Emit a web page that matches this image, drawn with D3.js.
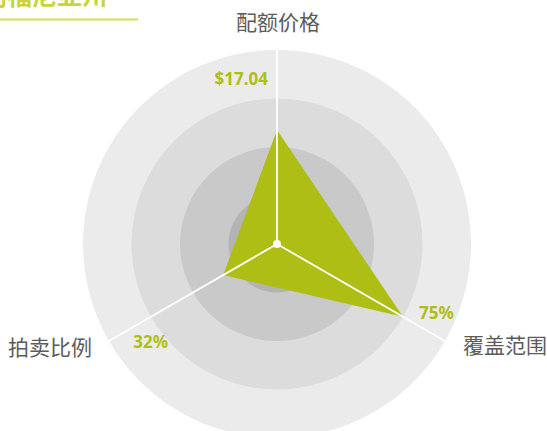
<!DOCTYPE html>
<html lang="zh">
<head>
  <meta charset="UTF-8">
  <title>加利福尼亚州</title>
  <script src="https://d3js.org/d3.v7.min.js"></script>
  <style>
    body { margin: 0; background: #fff; }
    svg { display: block; }
    .axis-label { font-family: "Noto Sans CJK SC", sans-serif; font-size: 21px; fill: #5b5b5b; }
    .value-label { font-family: "Noto Sans", sans-serif; font-weight: bold; font-size: 17px; fill: #afbe14; }
  </style>
</head>
<body>
  <svg id="chart" width="547" height="431"></svg>
  <script>
    // données
    const title = "加利福尼亚州";
    const axes = ["配额价格", "覆盖范围", "拍卖比例"];
    const rawValues = [17.04, 75, 32];
    const axisMax = [29, 100, 100];
    const valueLabels = ["$17.04", "75%", "32%"];
    const ringLevels = [4, 3, 2, 1];
    const ringColors = ["#ebebeb", "#dcdcdc", "#c9c9c9", "#b3b3b3"];

    const svg = d3.select("#chart");
    const cx = 277, cy = 244, R = 194;

    const r = d3.scaleLinear().domain([0, 1]).range([0, R]);
    const angle = d3.scaleLinear().domain([0, axes.length]).range([-Math.PI / 2, 1.5 * Math.PI]);
    const pt = (i, v) => [cx + r(v) * Math.cos(angle(i)), cy + r(v) * Math.sin(angle(i))];

    // titre coupé en haut à gauche
    svg.append("text")
      .attr("x", -43).attr("y", 5)
      .attr("font-family", "Noto Sans CJK SC").attr("font-weight", "bold")
      .attr("font-size", 25).attr("fill", "#c8d53a")
      .text(title);
    svg.append("line")
      .attr("x1", 0).attr("x2", 138).attr("y1", 19.5).attr("y2", 19.5)
      .attr("stroke", "#d3df4e").attr("stroke-width", 2);

    // anneaux
    svg.selectAll(".ring")
      .data(ringLevels)
      .join("circle")
      .attr("class", "ring")
      .attr("cx", cx).attr("cy", cy)
      .attr("r", d => r(d / 4))
      .attr("fill", (d, i) => ringColors[i]);

    // polygone
    const norm = rawValues.map((v, i) => v / axisMax[i]);
    svg.append("path")
      .datum(norm)
      .attr("d", d => d3.line()(d.map((v, i) => pt(i, v))) + "Z")
      .attr("fill", "#afbe14");

    // axes
    svg.selectAll(".axis")
      .data(axes)
      .join("line")
      .attr("class", "axis")
      .attr("x1", cx).attr("y1", cy)
      .attr("x2", (d, i) => pt(i, 1)[0])
      .attr("y2", (d, i) => pt(i, 1)[1])
      .attr("stroke", "#fff").attr("stroke-width", 1.8);

    svg.append("circle").attr("cx", cx).attr("cy", cy).attr("r", 4).attr("fill", "#fff");

    // libellés des axes
    const labelPos = [
      { v: 1.15, dx: 1, dy: 0, anchor: "middle" },
      { v: 1, dx: 18, dy: 3, anchor: "start" },
      { v: 1, dx: -17, dy: 5, anchor: "end" }
    ];
    svg.selectAll(".axis-label")
      .data(axes)
      .join("text")
      .attr("class", "axis-label")
      .attr("x", (d, i) => pt(i, labelPos[i].v)[0] + labelPos[i].dx)
      .attr("y", (d, i) => pt(i, labelPos[i].v)[1] + labelPos[i].dy)
      .attr("text-anchor", (d, i) => labelPos[i].anchor)
      .attr("dominant-baseline", "central")
      .text(d => d);

    // étiquettes des valeurs
    const valuePos = [
      { v: 0.855, dx: -9, dy: 0, anchor: "end" },
      { v: 0.75, dx: 16, dy: -4, anchor: "start" },
      { v: 0.75, dx: 17, dy: 25, anchor: "end" }
    ];
    svg.selectAll(".value-label")
      .data(valueLabels)
      .join("text")
      .attr("class", "value-label")
      .attr("x", (d, i) => pt(i, valuePos[i].v)[0] + valuePos[i].dx)
      .attr("y", (d, i) => pt(i, valuePos[i].v)[1] + valuePos[i].dy)
      .attr("text-anchor", (d, i) => valuePos[i].anchor)
      .attr("dominant-baseline", "central")
      .text(d => d);
  </script>
</body>
</html>
